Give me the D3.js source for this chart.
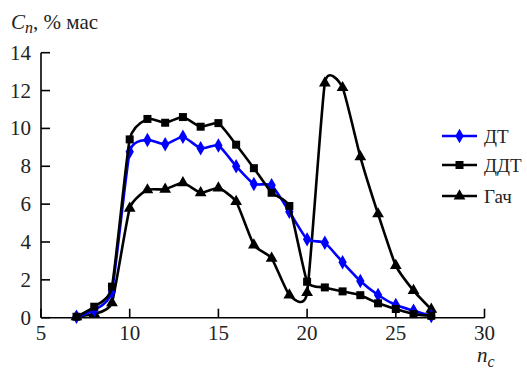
<!DOCTYPE html>
<html><head><meta charset="utf-8">
<script src="https://cdn.jsdelivr.net/npm/d3@7"></script>
<style>body{margin:0;background:#fff;font-family:"Liberation Serif",Tinos,"Nimbus Roman",FreeSerif}svg{display:block}svg text{font-family:"Liberation Serif",Tinos,"Nimbus Roman",FreeSerif !important}</style>
</head><body>
<svg id="c" width="527" height="371" font-family="Liberation Serif"></svg>
<script>
const nc = [7,8,9,10,11,12,13,14,15,16,17,18,19,20,21,22,23,24,25,26,27];
const dt  = [0.05,0.4,1.4,8.77,9.39,9.16,9.56,8.95,9.1,8.0,7.06,7.0,5.6,4.14,3.96,2.93,1.94,1.2,0.67,0.37,0.09];
const ddt = [0.05,0.58,1.64,9.42,10.5,10.3,10.6,10.09,10.28,9.14,7.9,6.6,5.9,1.9,1.6,1.39,1.19,0.76,0.46,0.19,0.1];
const gach= [0.05,0.2,0.79,5.78,6.75,6.78,7.13,6.6,6.85,6.13,3.84,3.14,1.2,1.32,12.4,12.15,8.5,5.48,2.75,1.43,0.44];
const xTicks = [5,10,15,20,25,30];
const yTicks = [0,2,4,6,8,10,12,14];
const seriesNames = ["ДТ","ДДТ","Гач"];

const FF = '"Liberation Serif", Tinos, "Nimbus Roman", FreeSerif';
const svg = d3.select("#c");
const x = d3.scaleLinear().domain([5,30]).range([41,484.5]);
const y = d3.scaleLinear().domain([0,14]).range([317.7,52.7]);
const txt = (sel)=>sel.append("text").style("font-family",FF).attr("fill","#222");

svg.append("line").attr("x1",x(5)).attr("x2",x(30)).attr("y1",y(0)).attr("y2",y(0)).attr("stroke","#000").attr("stroke-width",1.6);
svg.append("line").attr("x1",x(5)).attr("x2",x(5)).attr("y1",y(0)).attr("y2",y(14)).attr("stroke","#000").attr("stroke-width",1.6);
xTicks.forEach(t=>{
  svg.append("line").attr("x1",x(t)).attr("x2",x(t)).attr("y1",y(0)).attr("y2",y(0)-9).attr("stroke","#000").attr("stroke-width",1.6);
  txt(svg).attr("x",x(t)).attr("y",340).attr("text-anchor","middle").style("font-size","21px").text(t);
});
yTicks.forEach(t=>{
  svg.append("line").attr("x1",x(5)).attr("x2",x(5)+9).attr("y1",y(t)).attr("y2",y(t)).attr("stroke","#000").attr("stroke-width",1.6);
  txt(svg).attr("x",31).attr("y",y(t)+7).attr("text-anchor","end").style("font-size","21px").text(t);
});

const yt = txt(svg).attr("x",11).attr("y",29).style("font-size","21px");
yt.append("tspan").style("font-style","italic").text("C");
yt.append("tspan").style("font-style","italic").style("font-size","16px").attr("dy",4).text("n");
yt.append("tspan").attr("dy",-4).text(", % мас");
const xt = txt(svg).attr("x",477).attr("y",362).style("font-size","21px");
xt.append("tspan").style("font-style","italic").text("n");
xt.append("tspan").style("font-style","italic").style("font-size","16px").attr("dy",5).text("c");

const line = d3.line().x((d,i)=>x(nc[i])).y(d=>y(d)).curve(d3.curveCardinal.tension(0.5));
const series = [
  {name:seriesNames[0], vals:dt, color:"#0000ff", sym:d3.symbolDiamond, size:60},
  {name:seriesNames[1], vals:ddt, color:"#000", sym:d3.symbolSquare, size:64},
  {name:seriesNames[2], vals:gach, color:"#000", sym:d3.symbolTriangle, size:60}
];
[series[2],series[0],series[1]].forEach(s=>{
  svg.append("path").attr("d",line(s.vals)).attr("fill","none").attr("stroke",s.color).attr("stroke-width",2.6);
  const sym = d3.symbol().type(s.sym).size(s.size);
  s.vals.forEach((v,i)=>{
    svg.append("path").attr("d",sym()).attr("transform",`translate(${x(nc[i])},${y(v)})`).attr("fill",s.color);
  });
});

const ly = [136,165,196];
series.forEach((s,i)=>{
  svg.append("line").attr("x1",442).attr("x2",477).attr("y1",ly[i]).attr("y2",ly[i]).attr("stroke",s.color).attr("stroke-width",2.6);
  svg.append("path").attr("d",d3.symbol().type(s.sym).size(s.size)()).attr("transform",`translate(459.5,${ly[i]})`).attr("fill",s.color);
  txt(svg).attr("x",484).attr("y",ly[i]+7).style("font-size","19px").text(s.name);
});
</script>
</body></html>
